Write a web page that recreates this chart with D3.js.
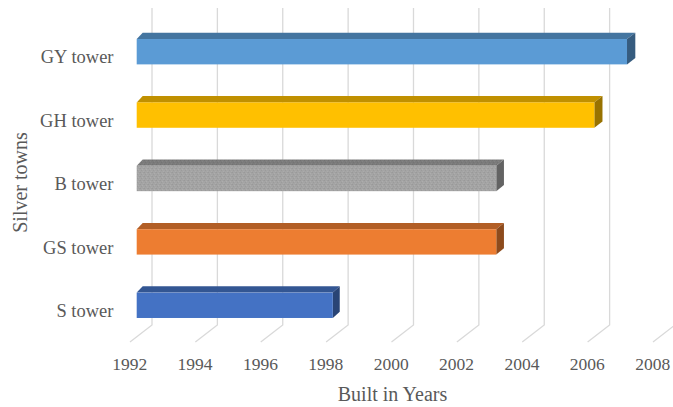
<!DOCTYPE html>
<html><head><meta charset="utf-8">
<script src="https://cdn.jsdelivr.net/npm/d3@7"></script>
<style>html,body{margin:0;padding:0;background:#fff;}svg{display:block;}</style>
</head><body>
<svg id="chart" width="673" height="407"></svg>
<script>
const categories = ["GY tower", "GH tower", "B tower", "GS tower", "S tower"];
const builtYear = [2007, 2006, 2003, 2003, 1998];
const barColors = ["#5b9bd5", "#ffc000", "#a5a5a5", "#ed7d31", "#4472c4"];
const tickYears = [1992, 1994, 1996, 1998, 2000, 2002, 2004, 2006, 2008];
const xTitle = "Built in Years";
const yTitle = "Silver towns";

const svg = d3.select("#chart");
const font = "'Liberation Serif', 'Times New Roman', serif";
const textColor = "#595959";

// back wall scale (gridlines) and front-of-bar plane (3D offset)
const xBack = d3.scaleLinear().domain([1992, 2008]).range([152, 675]);
const barShift = -15.3;
const floorDx = -22, floorDy = 17;
const wallTop = 8, wallBottom = 325;
const depthDy = -6.3;

const y = d3.scaleBand().domain(categories).range([20, 337]).paddingInner(0.6).paddingOuter(0.3);

// subtle stipple pattern for gray bar
const defs = svg.append("defs");
function stipple(id, baseC, dots) {
  const p = defs.append("pattern").attr("id", id).attr("width", 4).attr("height", 4).attr("patternUnits", "userSpaceOnUse");
  p.append("rect").attr("width", 4).attr("height", 4).attr("fill", baseC);
  dots.forEach(d => p.append("rect").attr("x", d[0]).attr("y", d[1]).attr("width", 1).attr("height", 1).attr("fill", d[2]));
}
stipple("stip", "#a4a4a4", [[0,0,"#999999"],[2,1,"#adadad"],[1,2,"#9b9b9b"],[3,3,"#ababab"],[3,0,"#9e9e9e"]]);
stipple("stipT", "#7b7b7b", [[0,0,"#727272"],[2,1,"#838383"],[1,2,"#747474"],[3,3,"#828282"]]);

// gridlines (wall + floor)
const grid = svg.append("g");
tickYears.forEach(t => {
  const gx = xBack(t);
  grid.append("path")
    .attr("d", `M${gx},${wallTop}L${gx},${wallBottom}L${gx + floorDx},${wallBottom + floorDy}`)
    .attr("fill", "none").attr("stroke", "#d9d9d9").attr("stroke-width", 1.3);
});

// tick labels
svg.append("g").selectAll("text").data(tickYears).join("text")
  .attr("x", d => xBack(d) + floorDx - 0.3)
  .attr("y", 370)
  .attr("text-anchor", "middle")
  .style("font-family", font).style("font-size", "17.5px").attr("fill", textColor)
  .text(d => d);

// bars
const x0 = xBack(1992) + barShift;
function depthDx(xv) { return 6 + 2.3 * (xv - x0) / (xBack(2007) + barShift - x0); }
const bars = svg.append("g");
categories.forEach((c, i) => {
  const v = builtYear[i];
  const xr = xBack(v) + barShift;
  const yt = y(c), h = y.bandwidth();
  const base = d3.color(barColors[i]);
  const top = base.darker(0.8), side = base.darker(1.45);
  const dl = depthDx(x0), dr = depthDx(xr);
  const isGray = c === "B tower";
  bars.append("path")
    .attr("d", `M${x0},${yt}L${xr},${yt}L${xr + dr},${yt + depthDy}L${x0 + dl},${yt + depthDy}Z`)
    .attr("fill", isGray ? "url(#stipT)" : top.formatHex());
  bars.append("path")
    .attr("d", `M${xr},${yt}L${xr + dr},${yt + depthDy}L${xr + dr},${yt + h + depthDy}L${xr},${yt + h}Z`)
    .attr("fill", isGray ? "#636363" : side.formatHex());
  bars.append("rect")
    .attr("x", x0).attr("y", yt).attr("width", xr - x0).attr("height", h)
    .attr("fill", isGray ? "url(#stip)" : barColors[i]);
});

// category labels
svg.append("g").selectAll("text").data(categories).join("text")
  .attr("x", 113.5)
  .attr("y", d => y(d) + y.bandwidth() - 1)
  .attr("text-anchor", "end")
  .style("font-family", font).style("font-size", "18.5px").attr("fill", textColor)
  .text(d => d);

// axis titles
svg.append("text")
  .attr("x", 392.5).attr("y", 401)
  .attr("text-anchor", "middle")
  .style("font-family", font).style("font-size", "20px").attr("fill", textColor)
  .text(xTitle);
svg.append("text")
  .attr("transform", "translate(27,182.5) rotate(-90)")
  .attr("text-anchor", "middle")
  .style("font-family", font).style("font-size", "20px").attr("fill", textColor)
  .text(yTitle);
</script>
</body></html>
